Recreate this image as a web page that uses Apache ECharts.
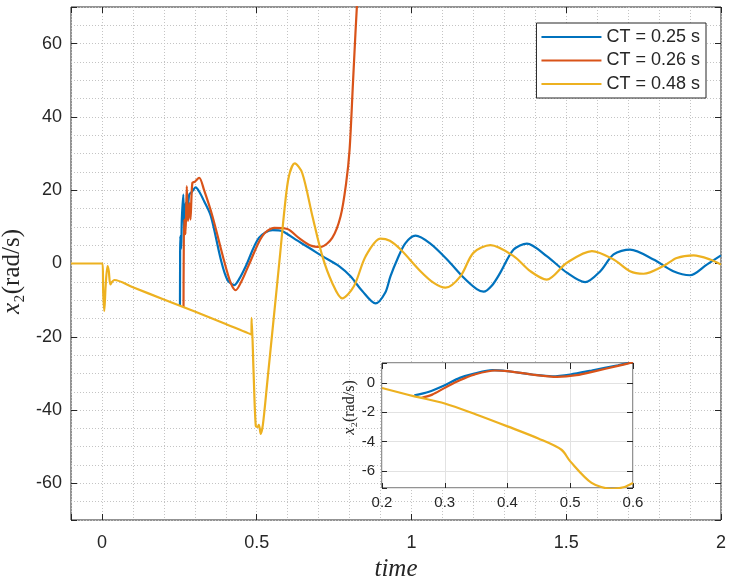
<!DOCTYPE html>
<html>
<head>
<meta charset="utf-8">
<script src="https://cdn.jsdelivr.net/npm/echarts@6.0.0/dist/echarts.min.js"></script>
<style>
html, body { margin: 0; padding: 0; background: #fff; }
#chart { width: 735px; height: 579px; }
</style>
</head>
<body>
<div id="chart"></div>
<script>
// main plot: [time, x2]
var ct025 = [[0.252,-11.6],[0.2525,0],[0.253,7.5],[0.256,4],[0.258,12],[0.263,18.8],[0.266,7.9],[0.27,16.5],
	[0.276,14],[0.282,18.8],[0.29,19.5],[0.303,20.8],[0.315,19.5],[0.33,17],[0.352,12.9],[0.384,1.1],[0.405,-4.4],
	[0.427,-5.9],[0.445,-4],[0.465,-0.7],[0.507,7.0],[0.551,9.1],[0.583,8.8],[0.626,6.5],[0.669,4.3],[0.712,2.0],
	[0.766,-0.7],[0.803,-3.5],[0.841,-7.5],[0.884,-10.9],[0.915,-8],[0.932,-3.5],[0.954,1.1],[0.98,5.5],[1.013,7.6],
	[1.06,5.5],[1.115,1.1],[1.169,-3.9],[1.211,-7.0],[1.233,-7.7],[1.26,-6],[1.287,-2.5],[1.33,3.8],[1.373,5.45],
	[1.437,2.0],[1.502,-2.5],[1.561,-5.1],[1.61,-2.1],[1.653,2.5],[1.706,3.8],[1.782,1.1],[1.846,-2.1],[1.9,-3.2],
	[1.954,-0.3],[2.0,2.2]];
var ct026 = [[0.2635,-11.9],[0.264,0],[0.266,12],[0.27,8],[0.274,21.1],[0.278,11.6],[0.283,16.5],[0.286,12],
	[0.292,22],[0.3,22.3],[0.314,23.4],[0.33,20],[0.357,12.9],[0.395,0.6],[0.416,-5.3],[0.432,-7.3],[0.45,-5],
	[0.475,-0.3],[0.518,7.5],[0.556,9.7],[0.599,9.4],[0.636,7.0],[0.674,4.9],[0.706,4.5],[0.744,7.0],[0.771,12.9],
	[0.789,22],[0.80,31],[0.811,49.3],[0.819,62.9],[0.83,80]];
var ct048 = [[-0.1,0],[0.002,0],[0.004,-8],[0.0075,-13],[0.012,-6],[0.018,-0.7],[0.022,-2],[0.027,-5.7],[0.033,-5],
	[0.04,-4.5],[0.1,-6.5],[0.2,-9.8],[0.3,-13.1],[0.4,-16.5],[0.483,-19.4],[0.4835,-14.8],[0.49,-30],[0.497,-44.4],
	[0.503,-44.6],[0.507,-44],[0.513,-46.5],[0.52,-44],[0.534,-32.5],[0.556,-14],[0.575,2],[0.59,15],[0.604,23.8],
	[0.623,27.3],[0.647,24.7],[0.68,12.9],[0.712,2.0],[0.744,-5.3],[0.776,-9.5],[0.814,-6.2],[0.852,2.0],[0.9,6.8],
	[0.93,6.2],[0.965,3.8],[1.029,-2.1],[1.072,-5.3],[1.11,-6.6],[1.158,-3.5],[1.2,2.9],[1.255,5.0],[1.33,2.0],
	[1.384,-2.1],[1.437,-4.4],[1.502,0.2],[1.583,3.4],[1.653,1.1],[1.706,-2.1],[1.75,-2.8],[1.814,-0.7],[1.857,1.5],
	[1.911,2.2],[1.965,1.1],[2.0,-0.3]];

// inset plot
var inset025 = [[0.2515,-0.85],[0.275,-0.6],[0.3,-0.16],[0.324,0.34],[0.347,0.63],[0.376,0.86],[0.4,0.79],
	[0.439,0.57],[0.471,0.45],[0.5,0.57],[0.534,0.84],[0.576,1.2],[0.6,1.43]];
var inset026 = [[0.263,-1.02],[0.28,-0.8],[0.3,-0.34],[0.324,0.18],[0.347,0.56],[0.38,0.84],[0.4,0.8],
	[0.44,0.56],[0.479,0.41],[0.51,0.52],[0.54,0.8],[0.576,1.15],[0.6,1.4]];
var inset048 = [[0.2,-0.35],[0.25,-0.9],[0.3,-1.4],[0.35,-2.15],[0.4,-2.96],[0.45,-3.8],[0.486,-4.55],
	[0.5,-5.34],[0.534,-6.8],[0.566,-7.2],[0.585,-7.1],[0.6,-6.8]];

var names = ['CT = 0.25 s', 'CT = 0.26 s', 'CT = 0.48 s'];
var colors = ['#0072BD', '#D95319', '#EDB120'];

var sans = "'Liberation Sans', Arial, sans-serif";
var serif = "'Liberation Serif', 'Times New Roman', serif";
var ink = '#262626';
var dots = { show: true, lineStyle: { color: '#c4c4c4', width: 1, type: [1, 2] } };

// axis that only draws inward ticks (for the boxed look)
function ticksOnly(pos, gridIndex, min, max, extra) {
	var a = {
		type: 'value', gridIndex: gridIndex, position: pos, min: min, max: max,
		axisLine: { show: false, onZero: false },
		axisTick: { show: true, inside: true, length: 6, lineStyle: { color: ink } },
		axisLabel: { show: false },
		splitLine: { show: false }
	};
	for (var k in extra) a[k] = extra[k];
	return a;
}

var chart = echarts.init(document.getElementById('chart'));

var series = [];
[ct025, ct026, ct048].forEach(function (d, i) {
	series.push({
		name: names[i], type: 'line', data: d, xAxisIndex: 0, yAxisIndex: 0,
		symbol: 'none', smooth: 0.3, color: colors[i],
		lineStyle: { width: 2.2, color: colors[i] }
	});
});
[inset025, inset026, inset048].forEach(function (d, i) {
	series.push({
		name: names[i], type: 'line', data: d, xAxisIndex: 2, yAxisIndex: 2,
		symbol: 'none', smooth: 0.3, color: colors[i], z: 5,
		lineStyle: { width: 2.2, color: colors[i] }
	});
});

chart.setOption({
	animation: false,
	backgroundColor: '#fff',
	grid: [
		{ left: 71, right: 14, top: 7, bottom: 59, show: true, borderColor: ink, borderWidth: 1,
			outerBoundsMode: 'none', containLabel: false },
		{ left: 382, top: 363, width: 251, height: 125, show: true, z: 3,
			outerBoundsMode: 'none', containLabel: false,
			backgroundColor: '#fff', borderColor: ink, borderWidth: 1 }
	],
	legend: {
		data: names, orient: 'vertical', right: 29, top: 23,
		icon: 'path://M0,0 L60,0 L60,2 L0,2 Z',
		itemWidth: 60, itemHeight: 18, itemGap: 5.5, padding: [5, 6, 5, 5],
		borderColor: ink, borderWidth: 1, borderRadius: 0, backgroundColor: '#fff',
		textStyle: { fontFamily: sans, fontSize: 18, color: ink }
	},
	xAxis: [
		{
			type: 'value', gridIndex: 0, min: -0.1, max: 2, splitNumber: 5,
			axisLine: { show: false, onZero: false },
			axisTick: { show: true, inside: true, length: 6, lineStyle: { color: ink } },
			axisLabel: {
				fontFamily: sans, fontSize: 18, color: ink, margin: 14,
				formatter: function (v) { return Math.abs(v * 2 - Math.round(v * 2)) < 1e-6 ? String(v) : ''; }
			},
			splitLine: dots,
			minorTick: { show: false, splitNumber: 5 },
			minorSplitLine: dots,
			name: 'time', nameLocation: 'middle', nameGap: 36,
			nameTextStyle: { fontFamily: serif, fontStyle: 'italic', fontSize: 25, color: ink }
		},
		ticksOnly('top', 0, -0.1, 2, { splitNumber: 5 }),
		{
			type: 'value', gridIndex: 1, min: 0.2, max: 0.6, interval: 0.1, z: 4,
			axisLine: { show: false, onZero: false },
			axisTick: { show: true, inside: true, length: 5, lineStyle: { color: ink } },
			axisLabel: { fontFamily: sans, fontSize: 15, color: ink, margin: 7 },
			splitLine: { show: true, lineStyle: { color: '#e2e2e2', width: 1 } }
		},
		ticksOnly('top', 1, 0.2, 0.6, { interval: 0.1, z: 4 })
	],
	yAxis: [
		{
			type: 'value', gridIndex: 0, min: -70, max: 70, splitNumber: 7,
			axisLine: { show: false, onZero: false },
			axisTick: { show: true, inside: true, length: 6, lineStyle: { color: ink } },
			axisLabel: {
				fontFamily: sans, fontSize: 18, color: ink, margin: 9,
				formatter: function (v) { return v % 20 === 0 ? String(v) : ''; }
			},
			splitLine: dots,
			minorTick: { show: false, splitNumber: 4 },
			minorSplitLine: dots,
			name: '{i|x}{r|₂(rad/s)}', nameLocation: 'middle', nameGap: 43, nameRotate: 90,
			nameTextStyle: {
				padding: [0, 16, 0, 0],
				rich: {
					i: { fontFamily: serif, fontStyle: 'italic', fontSize: 25, color: ink },
					r: { fontFamily: serif, fontSize: 25, color: ink }
				}
			}
		},
		ticksOnly('right', 0, -70, 70, { splitNumber: 7 }),
		{
			type: 'value', gridIndex: 1, min: -7.15, max: 1.35, splitNumber: 4, z: 4,
			axisLine: { show: false, onZero: false },
			axisTick: { show: true, inside: true, length: 5, lineStyle: { color: ink } },
			axisLabel: {
				fontFamily: sans, fontSize: 15, color: ink, margin: 7,
				formatter: function (v) { return Math.abs(v - Math.round(v)) < 1e-6 ? String(v) : ''; }
			},
			splitLine: { show: true, lineStyle: { color: '#e2e2e2', width: 1 } },
			name: '{i|x}{r|₂(rad/s)}', nameLocation: 'middle', nameGap: 22, nameRotate: 90,
			nameTextStyle: {
				padding: [0, 0, 0, 36],
				rich: {
					i: { fontFamily: serif, fontStyle: 'italic', fontSize: 16, color: ink },
					r: { fontFamily: serif, fontSize: 16, color: ink }
				}
			}
		},
		ticksOnly('right', 1, -7.15, 1.35, { splitNumber: 4, z: 4 })
	],
	series: series
});
</script>
</body>
</html>
